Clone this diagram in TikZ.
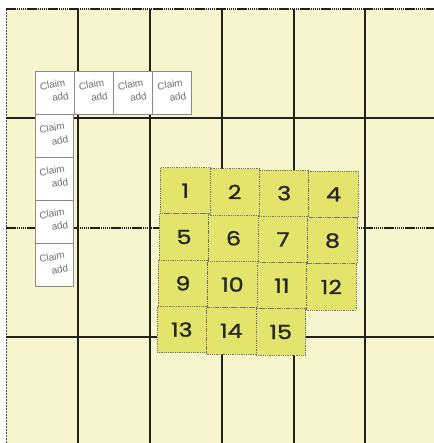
\documentclass[tikz,border=0pt]{standalone}
\usepackage{fontspec}
\newfontfamily\numfont[FakeStretch=1.22, FakeBold=1.2]{Poppins}
\newfontfamily\claimfont{Liberation Sans}
\definecolor{field}{HTML}{F6F5CE}
\definecolor{tileyel}{HTML}{E2E46C}
\definecolor{gridc}{HTML}{202020}
\definecolor{claimgray}{HTML}{8A8A8A}
\definecolor{claimtext}{HTML}{707070}
\newcommand{\claimlabel}{\rotatebox{10}{\begin{tabular}{@{}l@{}}Claim\\[3.5bp]\hspace*{10bp}add\end{tabular}}}
\tikzset{
  gridline/.style={draw=gridc, line width=1.1bp},
  thickline/.style={draw=gridc, line width=2.2bp, dash pattern=on 1.5bp off 0.6bp},
  claimtile/.style={draw=claimgray, fill=white, line width=0.9bp, minimum width=39bp, minimum height=43bp, inner sep=0pt, outer sep=0pt, font=\claimfont\fontsize{10bp}{10bp}\selectfont, text=claimtext},
  numtile/.style={draw=black!55, densely dotted, fill=tileyel, line width=0.8bp, minimum width=49.5bp, minimum height=46.3bp, inner sep=0pt, outer sep=0pt, font=\numfont\fontsize{19.5bp}{20bp}\selectfont, text=black!85},
}
\begin{document}
\begin{tikzpicture}[x=1bp, y=-1bp]
\useasboundingbox (0,0) rectangle (434,443);
\fill[white] (0,0) rectangle (434,443);
\fill[field] (6,9) rectangle (434,443);
% border
\draw[draw=gray!60!black, line width=1bp, dash pattern=on 1bp off 0.5bp] (6,443) -- (6,9);
\draw[gridline, line width=1.4bp, dash pattern=on 1.5bp off 0.6bp] (6,9) -- (434,9);
% vertical grid lines
\foreach \x in {78,150,222,294,365} { \draw[gridline] (\x,9) -- (\x,443); }
% horizontal grid lines
\draw[gridline] (6,118) -- (434,118);
\draw[thickline] (6,228) -- (434,228);
\draw[gridline] (6,337) -- (434,337);
% claim tiles: top row
\foreach \i/\cx in {1/54.5,2/93.5,3/132.5,4/172} {
  \node[claimtile, minimum width=39bp] (ct\i) at (\cx,92.5) {\claimlabel};
}
% claim tiles: column
\foreach \i/\cy in {1/136,2/178.5,3/221.5,4/265} {
  \node[claimtile, minimum width=38bp] (cc\i) at (54,\cy) {\claimlabel};
}
% numbered tiles
\begin{scope}[shift={(161,167)}, rotate=-1.4]
  \foreach \n [count=\k from 0] in {1,...,15} {
    \pgfmathtruncatemacro{\r}{int(\k/4)}
    \pgfmathtruncatemacro{\c}{mod(\k,4)}
    \node[numtile] (t\n) at ({24.75+49.5*\c},{23.15+46.3*\r}) {\n};
  }
\end{scope}
\end{tikzpicture}
\end{document}
